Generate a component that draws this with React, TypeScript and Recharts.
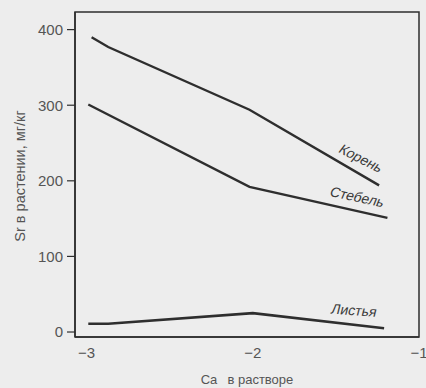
import { Line, LineChart, ReferenceArea, XAxis, YAxis } from "recharts";

// Ca в растворе (log) -> Sr в растении, мг/кг
const rootX = [-2.97, -2.87, -2.02, -1.24];
const rootY = [390, 377, 294, 194];

const stemX = [-2.99, -2.02, -1.19];
const stemY = [301, 192, 151];

const leafX = [-2.99, -2.87, -2.0, -1.21];
const leafY = [11, 11, 25, 5];

const xTicks = [-3, -2, -1];
const yTicks = [0, 100, 200, 300, 400];

const xDomain = [-3.07, -1];
const yDomain = [-6.6, 423.3];

const FONT = "'Liberation Sans', Arial, sans-serif";
const INK = "#2e2e2e";
const TEXT = "#555";
const BG = "#ededed";

const toPoints = (xs: number[], ys: number[]) => xs.map((x, i) => ({ x, y: ys[i] }));

const rootData = toPoints(rootX, rootY);
const stemData = toPoints(stemX, stemY);
const leafData = toPoints(leafX, leafY);

const curveLabel = (text: string, count: number, dx: number, dy: number, angle: number) =>
    (props: any) => {
        if (props.index !== count - 1) return null;
        const cx = props.x + dx;
        const cy = props.y + dy;
        return (
            <text
                transform={`translate(${cx},${cy}) rotate(${angle}) skewX(-10)`}
                textAnchor="middle"
                dominantBaseline="central"
                fontFamily={FONT}
                fontSize={14}
                fill="#3a3a3a"
            >
                {text}
            </text>
        );
    };

const fmt = (v: number) => (v < 0 ? "\u2212" + Math.abs(v) : String(v));

const XTick = (props: any) => {
    const { x, y, payload } = props;
    const base = y - 9;
    return (
        <g>
            {payload.value > -1 && (
                <line x1={x} x2={x} y1={base} y2={base - 7} stroke={INK} strokeWidth={1.2} />
            )}
            <text x={x} y={y + 6} textAnchor="middle" dominantBaseline="central" fontFamily={FONT} fontSize={15} fill={TEXT}>
                {fmt(payload.value)}
            </text>
        </g>
    );
};

const YTitle = () => (
    <text
        transform="translate(20,176) rotate(-90)"
        textAnchor="middle"
        dominantBaseline="central"
        fontFamily={FONT}
        fontSize={14.5}
        fill={TEXT}
    >
        Sr  в растении, мг/кг
    </text>
);

const App = () => {
    return (
        <div style={{ position: "absolute", left: 0, top: 0, width: 426, height: 388, background: BG }}>
            <LineChart width={426} height={388} margin={{ top: 12, right: 7, bottom: 0, left: 0 }}>
                <XAxis
                    dataKey="x"
                    type="number"
                    domain={xDomain}
                    ticks={xTicks}
                    allowDataOverflow
                    height={51}
                    tickLine={false}
                    tickSize={0}
                    tickMargin={9}
                    tick={<XTick />}
                    axisLine={{ stroke: INK, strokeWidth: 1.5 }}
                    label={{
                        value: "Ca \u2002в растворе",
                        position: "insideBottom",
                        offset: 4,
                        fontFamily: FONT,
                        fontSize: 13,
                        fill: TEXT,
                    }}
                />
                <YAxis
                    dataKey="y"
                    type="number"
                    domain={yDomain}
                    ticks={yTicks}
                    allowDataOverflow
                    width={75}
                    tickSize={8}
                    tickMargin={4}
                    tickLine={{ stroke: INK, strokeWidth: 1.2 }}
                    axisLine={{ stroke: INK, strokeWidth: 1.5 }}
                    tick={{ fontFamily: FONT, fontSize: 15, fill: TEXT }}
                    label={{ content: () => <YTitle /> }}
                />
                <ReferenceArea
                    x1={xDomain[0]}
                    x2={xDomain[1]}
                    y1={yDomain[0]}
                    y2={yDomain[1]}
                    fill="none"
                    stroke={INK}
                    strokeWidth={1.5}
                    ifOverflow="visible"
                />
                <Line
                    data={rootData}
                    dataKey="y"
                    type="linear"
                    stroke={INK}
                    strokeWidth={2.4}
                    dot={false}
                    isAnimationActive={false}
                    label={curveLabel("Корень", rootData.length, -18, -27, 27)}
                />
                <Line
                    data={stemData}
                    dataKey="y"
                    type="linear"
                    stroke={INK}
                    strokeWidth={2.4}
                    dot={false}
                    isAnimationActive={false}
                    label={curveLabel("Стебель", stemData.length, -30, -21, 12)}
                />
                <Line
                    data={leafData}
                    dataKey="y"
                    type="linear"
                    stroke={INK}
                    strokeWidth={2.6}
                    dot={false}
                    isAnimationActive={false}
                    label={curveLabel("Листья", leafData.length, -30, -18, 4)}
                />
            </LineChart>
        </div>
    );
};

export default App;
